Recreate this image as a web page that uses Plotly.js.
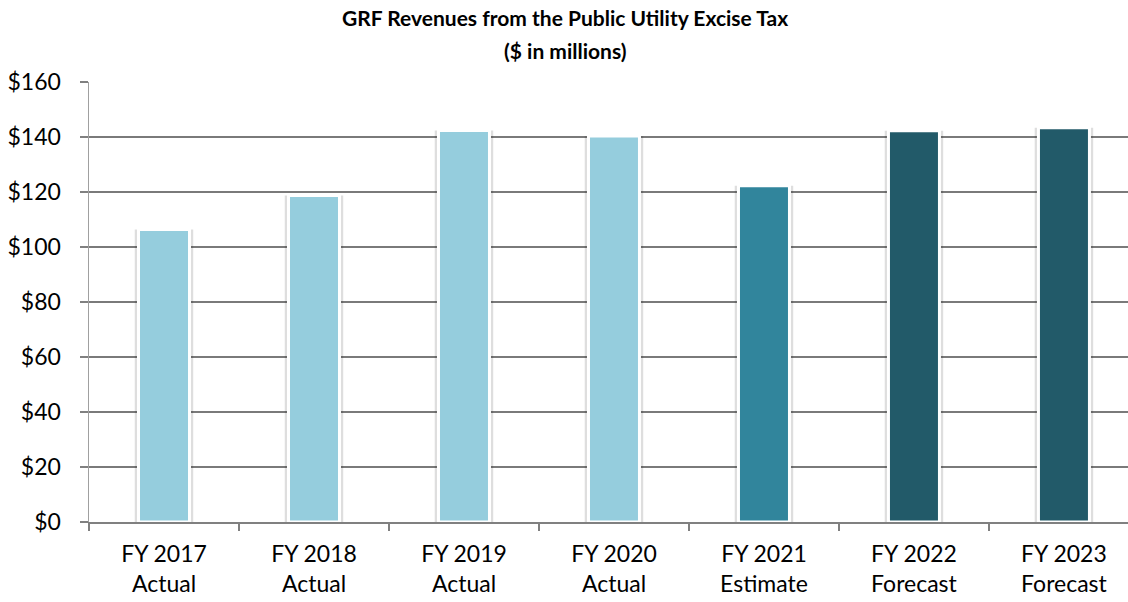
<!DOCTYPE html>
<html>
<head>
<meta charset="utf-8">
<script src="https://cdn.plot.ly/plotly-3.0.1.min.js"></script>
<style>html,body{margin:0;padding:0;background:#fff;}#chart{width:1128px;height:602px;}</style>
</head>
<body>
<div id="chart"></div>
<script>
const categories = ["FY 2017<br>Actual","FY 2018<br>Actual","FY 2019<br>Actual","FY 2020<br>Actual","FY 2021<br>Estimate","FY 2022<br>Forecast","FY 2023<br>Forecast"];
const revenues = [106.4, 118.7, 142.4, 140.4, 122.3, 142.3, 143.4];
const barColors = ["#95CDDD","#95CDDD","#95CDDD","#95CDDD","#31859C","#225A69","#225A69"];
const titleLines = ["GRF Revenues from the Public Utility Excise Tax", "($ in millions)"];

const shadow = {
  type: "bar", x: categories, y: revenues, width: 0.39,
  marker: {color: "rgba(0,0,0,0.13)", line: {width: 0}},
  hoverinfo: "skip", showlegend: false
};
const bars = {
  type: "bar", x: categories, y: revenues, width: 0.34,
  marker: {color: barColors, line: {color: "#ffffff", width: 3}},
  showlegend: false
};

const titleFont = {family: "Lato, 'Open Sans', sans-serif", size: 21, color: "#000000"};

const layout = {
  width: 1128, height: 602,
  margin: {l: 89, r: 0, t: 82, b: 80},
  paper_bgcolor: "#ffffff", plot_bgcolor: "#ffffff",
  barmode: "overlay",
  font: {family: "Lato, 'Open Sans', sans-serif", color: "#000000", size: 23},
  annotations: [
    {text: "<b>" + titleLines[0] + "</b>", xref: "paper", yref: "paper", x: 0.458, y: 1.1455,
     xanchor: "center", yanchor: "middle", showarrow: false, font: titleFont},
    {text: "<b>" + titleLines[1] + "</b>", xref: "paper", yref: "paper", x: 0.458, y: 1.0727,
     xanchor: "center", yanchor: "middle", showarrow: false, font: titleFont}
  ],
  xaxis: {
    type: "category",
    range: [-0.5, 6.427],
    tickson: "boundaries",
    ticks: "outside", ticklen: 7, tickcolor: "#808080", tickwidth: 1.5,
    showline: true, linecolor: "#808080", linewidth: 1.5,
    showgrid: false, zeroline: false,
    tickfont: {size: 23, color: "#000000"},
    ticklabelstandoff: 11
  },
  yaxis: {
    range: [0, 160],
    tickmode: "linear", tick0: 0, dtick: 20,
    tickprefix: "$", showtickprefix: "all",
    ticks: "outside", ticklen: 8, tickcolor: "#808080", tickwidth: 1.5,
    showline: true, linecolor: "#a0a0a0", linewidth: 1.5,
    showgrid: true, gridcolor: "#7a7a7a", gridwidth: 1.5,
    zeroline: false,
    tickfont: {size: 23, color: "#000000"},
    ticklabelstandoff: 14
  }
};

Plotly.newPlot("chart", [shadow, bars], layout, {displayModeBar: false, staticPlot: true});
</script>
</body>
</html>
